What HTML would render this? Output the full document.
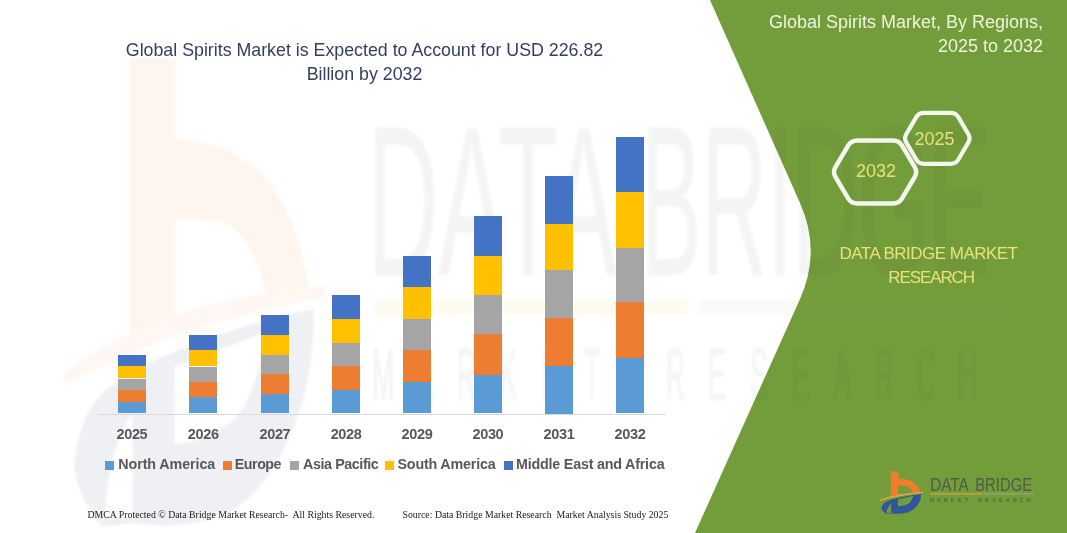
<!DOCTYPE html>
<html><head><meta charset="utf-8">
<style>
html,body{margin:0;padding:0;}
body{width:1067px;height:533px;position:relative;overflow:hidden;background:#fff;font-family:"Liberation Sans",sans-serif;}
.abs{position:absolute;}
.t{position:absolute;white-space:pre;line-height:1;}
.bar{position:absolute;width:28px;}
.seg{position:absolute;left:0;width:28px;}
.na{background:#5B9BD5}.eu{background:#ED7D31}.ap{background:#A5A5A5}.sa{background:#FFC000}.me{background:#4472C4}
.yr{position:absolute;font-weight:bold;font-size:14.5px;letter-spacing:-0.35px;color:#595959;white-space:pre;line-height:1;}
.lg{position:absolute;font-weight:bold;font-size:14.3px;color:#595959;white-space:pre;line-height:1;}
.sq{position:absolute;width:9px;height:9px;}
</style></head>
<body>
<!-- background green panel -->
<svg class="abs" style="left:0;top:0" width="1067" height="533" viewBox="0 0 1067 533">
  <path d="M710,0 L800,203 Q821.4,251 800,299 L695,533 L1067,533 L1067,0 Z" fill="#739D3A"/>
</svg>

<!-- watermark -->
<svg class="abs" style="left:0;top:0" width="1067" height="533" viewBox="0 0 1067 533"><defs><filter id="wb" x="-10%" y="-10%" width="120%" height="120%"><feGaussianBlur stdDeviation="0.2 0.1"/></filter></defs><g transform="translate(132.8,58) scale(6.05,11)" filter="url(#wb)"><g transform="translate(-0.66,0)"><g opacity="0.065"><path d="M0.2,0 L7.7,0 L7.7,7.4 Q17.3,7.4 23.5,11.5 Q28.5,15.5 30,21.5 L23,22 Q20.5,16 15.5,14.9 L7.7,14.6 L7.7,24.2 L0.2,25.4 Z" fill="#F07C2C"/><path d="M-10.6,29.2 Q5,22.5 32.5,21.2 Q8,23.6 -10.6,29.2 Z" fill="#F08A3C" stroke="#F08A3C" stroke-width="1"/></g><g opacity="0.1"><path fill-rule="evenodd" fill="#5A6E8C" d="M30.5,22.8 C31,30 26,38 17,41.2 Q10,43 0.7,42.3 L-4.4,42.6 Q-9.5,39 -8.9,36.5 Q-8,32 -3.2,29.9 Q8,25.6 30.5,22.8 Z M7.5,28.1 L22.7,24.9 Q21,31 17,33.1 Q12,35 7.5,35.1 Z M-4,41.8 Q-3.5,35.5 0.6,32.3 L0.7,41.8 Z"/></g></g><g opacity="0.06"><text x="38.7" y="19.7" font-family="Liberation Sans" font-size="19.4" textLength="41.3" lengthAdjust="spacingAndGlyphs" fill="#404040">DATA</text><text x="84" y="19.7" font-family="Liberation Sans" font-size="19.4" textLength="57.6" lengthAdjust="spacingAndGlyphs" fill="#404040">BRIDGE</text></g><g opacity="0.06"><rect x="40" y="22" width="51.8" height="1.3" fill="#D9A13B"/><rect x="93.5" y="22" width="50" height="1.3" fill="#8FA877"/><text transform="translate(41.40,31.1) scale(0.65,1)" text-anchor="middle" font-family="Liberation Sans" font-size="6.8" fill="#404040">M</text><text transform="translate(48.30,31.1) scale(0.65,1)" text-anchor="middle" font-family="Liberation Sans" font-size="6.8" fill="#404040">A</text><text transform="translate(55.20,31.1) scale(0.65,1)" text-anchor="middle" font-family="Liberation Sans" font-size="6.8" fill="#404040">R</text><text transform="translate(62.10,31.1) scale(0.65,1)" text-anchor="middle" font-family="Liberation Sans" font-size="6.8" fill="#404040">K</text><text transform="translate(69.00,31.1) scale(0.65,1)" text-anchor="middle" font-family="Liberation Sans" font-size="6.8" fill="#404040">E</text><text transform="translate(75.90,31.1) scale(0.65,1)" text-anchor="middle" font-family="Liberation Sans" font-size="6.8" fill="#404040">T</text><text transform="translate(89.70,31.1) scale(0.65,1)" text-anchor="middle" font-family="Liberation Sans" font-size="6.8" fill="#404040">R</text><text transform="translate(96.60,31.1) scale(0.65,1)" text-anchor="middle" font-family="Liberation Sans" font-size="6.8" fill="#404040">E</text><text transform="translate(103.50,31.1) scale(0.65,1)" text-anchor="middle" font-family="Liberation Sans" font-size="6.8" fill="#404040">S</text><text transform="translate(110.40,31.1) scale(0.65,1)" text-anchor="middle" font-family="Liberation Sans" font-size="6.8" fill="#404040">E</text><text transform="translate(117.30,31.1) scale(0.65,1)" text-anchor="middle" font-family="Liberation Sans" font-size="6.8" fill="#404040">A</text><text transform="translate(124.20,31.1) scale(0.65,1)" text-anchor="middle" font-family="Liberation Sans" font-size="6.8" fill="#404040">R</text><text transform="translate(131.10,31.1) scale(0.65,1)" text-anchor="middle" font-family="Liberation Sans" font-size="6.8" fill="#404040">C</text><text transform="translate(138.00,31.1) scale(0.65,1)" text-anchor="middle" font-family="Liberation Sans" font-size="6.8" fill="#404040">H</text></g></g></svg>
<div id="chart"><!--BARS-->
<div class="seg me" style="left:118.0px;top:354.6px;height:11.7px"></div>
<div class="seg sa" style="left:118.0px;top:366.3px;height:12.2px"></div>
<div class="seg ap" style="left:118.0px;top:378.5px;height:11.0px"></div>
<div class="seg eu" style="left:118.0px;top:389.5px;height:12.2px"></div>
<div class="seg na" style="left:118.0px;top:401.7px;height:11.8px"></div>
<div class="seg me" style="left:189.3px;top:334.5px;height:15.7px"></div>
<div class="seg sa" style="left:189.3px;top:350.2px;height:16.3px"></div>
<div class="seg ap" style="left:189.3px;top:366.5px;height:15.0px"></div>
<div class="seg eu" style="left:189.3px;top:381.5px;height:15.9px"></div>
<div class="seg na" style="left:189.3px;top:397.4px;height:16.1px"></div>
<div class="seg me" style="left:261.0px;top:314.5px;height:20.0px"></div>
<div class="seg sa" style="left:261.0px;top:334.5px;height:20.1px"></div>
<div class="seg ap" style="left:261.0px;top:354.6px;height:19.6px"></div>
<div class="seg eu" style="left:261.0px;top:374.2px;height:19.5px"></div>
<div class="seg na" style="left:261.0px;top:393.7px;height:19.8px"></div>
<div class="seg me" style="left:332.2px;top:294.7px;height:24.0px"></div>
<div class="seg sa" style="left:332.2px;top:318.7px;height:24.1px"></div>
<div class="seg ap" style="left:332.2px;top:342.8px;height:23.2px"></div>
<div class="seg eu" style="left:332.2px;top:366.0px;height:23.8px"></div>
<div class="seg na" style="left:332.2px;top:389.8px;height:23.7px"></div>
<div class="seg me" style="left:403.1px;top:255.9px;height:30.7px"></div>
<div class="seg sa" style="left:403.1px;top:286.6px;height:32.2px"></div>
<div class="seg ap" style="left:403.1px;top:318.8px;height:31.6px"></div>
<div class="seg eu" style="left:403.1px;top:350.4px;height:31.2px"></div>
<div class="seg na" style="left:403.1px;top:381.6px;height:31.9px"></div>
<div class="seg me" style="left:474.0px;top:215.8px;height:40.0px"></div>
<div class="seg sa" style="left:474.0px;top:255.8px;height:38.8px"></div>
<div class="seg ap" style="left:474.0px;top:294.6px;height:39.5px"></div>
<div class="seg eu" style="left:474.0px;top:334.1px;height:40.5px"></div>
<div class="seg na" style="left:474.0px;top:374.6px;height:38.9px"></div>
<div class="seg me" style="left:545.1px;top:175.9px;height:48.0px"></div>
<div class="seg sa" style="left:545.1px;top:223.9px;height:46.4px"></div>
<div class="seg ap" style="left:545.1px;top:270.3px;height:47.7px"></div>
<div class="seg eu" style="left:545.1px;top:318.0px;height:48.0px"></div>
<div class="seg na" style="left:545.1px;top:366.0px;height:47.5px"></div>
<div class="seg me" style="left:616.1px;top:137.1px;height:54.6px"></div>
<div class="seg sa" style="left:616.1px;top:191.7px;height:56.3px"></div>
<div class="seg ap" style="left:616.1px;top:248.0px;height:53.8px"></div>
<div class="seg eu" style="left:616.1px;top:301.8px;height:56.6px"></div>
<div class="seg na" style="left:616.1px;top:358.4px;height:55.1px"></div>
<div class="yr" style="left:103.9px;width:56px;text-align:center;top:426.8px">2025</div>
<div class="yr" style="left:175.2px;width:56px;text-align:center;top:426.8px">2026</div>
<div class="yr" style="left:246.9px;width:56px;text-align:center;top:426.8px">2027</div>
<div class="yr" style="left:318.1px;width:56px;text-align:center;top:426.8px">2028</div>
<div class="yr" style="left:389.0px;width:56px;text-align:center;top:426.8px">2029</div>
<div class="yr" style="left:459.9px;width:56px;text-align:center;top:426.8px">2030</div>
<div class="yr" style="left:531.0px;width:56px;text-align:center;top:426.8px">2031</div>
<div class="yr" style="left:602.0px;width:56px;text-align:center;top:426.8px">2032</div>
<!--/BARS--></div>

<!-- title -->
<div class="t" style="left:0;width:729px;top:38px;text-align:center;font-size:17.8px;color:#323F5E;line-height:24px">Global Spirits Market is Expected to Account for USD 226.82
Billion by 2032</div>

<!-- green panel title -->
<div class="t" style="right:24px;top:9.8px;text-align:right;font-size:18px;color:#EDF5DA;line-height:24px">Global Spirits Market, By Regions,
2025 to 2032</div>

<!-- hexagons -->
<svg class="abs" style="left:0;top:0" width="1067" height="533" viewBox="0 0 1067 533">
  <path d="M906.34,142.61 Q903.80,138.30 906.34,133.99 L916.26,117.11 Q918.80,112.80 923.80,112.80 L950.80,112.80 Q955.80,112.80 958.34,117.11 L968.26,133.99 Q970.80,138.30 968.26,142.61 L958.34,159.49 Q955.80,163.80 950.80,163.80 L923.80,163.80 Q918.80,163.80 916.26,159.49 Z" fill="none" stroke="#F4F7EE" stroke-width="4.2"/>
  <path d="M835.56,177.16 Q832.50,172.00 835.56,166.84 L848.14,145.66 Q851.20,140.50 857.20,140.50 L893.00,140.50 Q899.00,140.50 902.06,145.66 L914.64,166.84 Q917.70,172.00 914.64,177.16 L902.06,198.34 Q899.00,203.50 893.00,203.50 L857.20,203.50 Q851.20,203.50 848.14,198.34 Z" fill="none" stroke="#F4F7EE" stroke-width="4.5"/>
</svg>
<div class="t" style="left:914.5px;top:130px;font-size:18px;color:#E9E27B">2025</div>
<div class="t" style="left:856px;top:161.8px;font-size:18px;color:#E9E27B">2032</div>

<div class="t" style="left:839.5px;top:244.6px;font-size:17px;letter-spacing:-0.52px;color:#E9E27B">DATA BRIDGE MARKET</div>
<div class="t" style="left:888.3px;top:269px;font-size:17px;letter-spacing:-1.1px;color:#E9E27B">RESEARCH</div>


<!-- legend -->
<div class="sq na" style="left:104.8px;top:460.9px"></div><div class="lg" style="left:118.3px;top:457.2px;letter-spacing:-0.09px">North America</div>
<div class="sq eu" style="left:222.9px;top:460.9px"></div><div class="lg" style="left:234.8px;top:457.2px;letter-spacing:-0.5px">Europe</div>
<div class="sq ap" style="left:290.4px;top:460.9px"></div><div class="lg" style="left:303.1px;top:457.2px;letter-spacing:-0.42px">Asia Pacific</div>
<div class="sq sa" style="left:385px;top:460.9px"></div><div class="lg" style="left:397.5px;top:457.2px;letter-spacing:-0.18px">South America</div>
<div class="sq me" style="left:503.7px;top:460.9px"></div><div class="lg" style="left:516px;top:457.2px;letter-spacing:-0.2px">Middle East and Africa</div>

<!-- axis -->
<div class="abs" style="left:98px;top:413.5px;width:568px;height:1px;background:#D9D9D9"></div>

<!-- footer -->
<div class="t" style="left:87.5px;top:510.2px;font-family:'Liberation Serif',serif;font-size:9.8px;color:#1a1a1a">DMCA Protected © Data Bridge Market Research-  All Rights Reserved.</div>
<div class="t" style="left:402.5px;top:510.2px;font-family:'Liberation Serif',serif;font-size:9.8px;color:#1a1a1a">Source: Data Bridge Market Research  Market Analysis Study 2025</div>

<!-- logo -->
<svg class="abs" style="left:0;top:0" width="1067" height="533" viewBox="0 0 1067 533"><g transform="translate(890.5,471.2)"><path d="M0.2,0 L7.7,0 L7.7,7.4 Q17.3,7.4 23.5,11.5 Q28.5,15.5 30,21.5 L23,22 Q20.5,16 15.5,14.9 L7.7,14.6 L7.7,24.2 L0.2,25.4 Z" fill="#F07C2C"/><path d="M-10.6,29.2 Q5,22.5 32.5,21.2 Q8,23.6 -10.6,29.2 Z" fill="#E3A444" stroke="#E3A444" stroke-width="1"/><path fill-rule="evenodd" fill="#30569E" d="M30.5,22.8 C31,30 26,38 17,41.2 Q10,43 0.7,42.3 L-4.4,42.6 Q-9.5,39 -8.9,36.5 Q-8,32 -3.2,29.9 Q8,25.6 30.5,22.8 Z M7.5,28.1 L22.7,24.9 Q21,31 17,33.1 Q12,35 7.5,35.1 Z M-4,41.8 Q-3.5,35.5 0.6,32.3 L0.7,41.8 Z"/><text x="39.7" y="19.9" font-family="Liberation Sans" font-size="19" textLength="38.6" lengthAdjust="spacingAndGlyphs" fill="#505C4A">DATA</text><text x="84.7" y="19.9" font-family="Liberation Sans" font-size="19" textLength="57" lengthAdjust="spacingAndGlyphs" fill="#505C4A">BRIDGE</text><rect x="40" y="22" width="51.8" height="1.3" fill="#D9A13B"/><rect x="93.5" y="22" width="50" height="1.3" fill="#8FA877"/><text transform="translate(41.40,31) scale(1,1)" text-anchor="middle" font-family="Liberation Sans" font-size="5.6" fill="#4A5544">M</text><text transform="translate(48.30,31) scale(1,1)" text-anchor="middle" font-family="Liberation Sans" font-size="5.6" fill="#4A5544">A</text><text transform="translate(55.20,31) scale(1,1)" text-anchor="middle" font-family="Liberation Sans" font-size="5.6" fill="#4A5544">R</text><text transform="translate(62.10,31) scale(1,1)" text-anchor="middle" font-family="Liberation Sans" font-size="5.6" fill="#4A5544">K</text><text transform="translate(69.00,31) scale(1,1)" text-anchor="middle" font-family="Liberation Sans" font-size="5.6" fill="#4A5544">E</text><text transform="translate(75.90,31) scale(1,1)" text-anchor="middle" font-family="Liberation Sans" font-size="5.6" fill="#4A5544">T</text><text transform="translate(89.70,31) scale(1,1)" text-anchor="middle" font-family="Liberation Sans" font-size="5.6" fill="#4A5544">R</text><text transform="translate(96.60,31) scale(1,1)" text-anchor="middle" font-family="Liberation Sans" font-size="5.6" fill="#4A5544">E</text><text transform="translate(103.50,31) scale(1,1)" text-anchor="middle" font-family="Liberation Sans" font-size="5.6" fill="#4A5544">S</text><text transform="translate(110.40,31) scale(1,1)" text-anchor="middle" font-family="Liberation Sans" font-size="5.6" fill="#4A5544">E</text><text transform="translate(117.30,31) scale(1,1)" text-anchor="middle" font-family="Liberation Sans" font-size="5.6" fill="#4A5544">A</text><text transform="translate(124.20,31) scale(1,1)" text-anchor="middle" font-family="Liberation Sans" font-size="5.6" fill="#4A5544">R</text><text transform="translate(131.10,31) scale(1,1)" text-anchor="middle" font-family="Liberation Sans" font-size="5.6" fill="#4A5544">C</text><text transform="translate(138.00,31) scale(1,1)" text-anchor="middle" font-family="Liberation Sans" font-size="5.6" fill="#4A5544">H</text></g></svg>
</body></html>
